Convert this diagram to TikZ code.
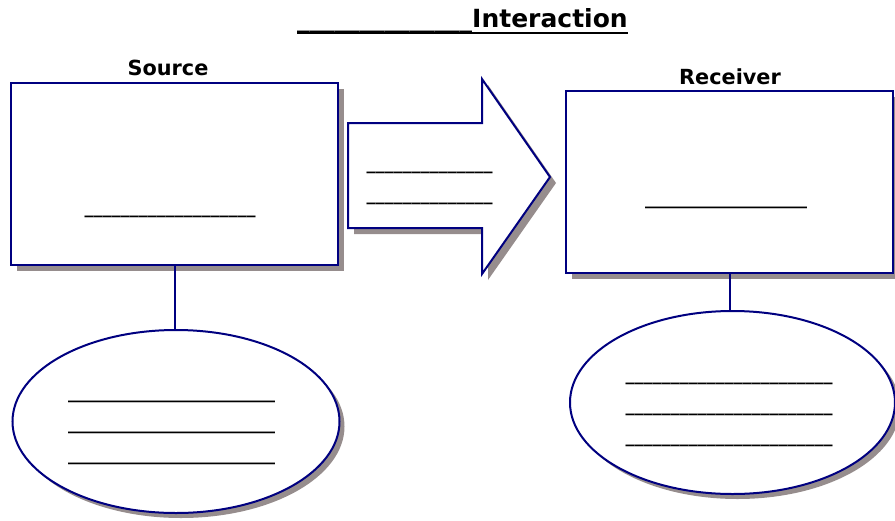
\documentclass[tikz,border=0pt]{standalone}
\usepackage{fontspec}
\setmainfont{Liberation Sans}
\newfontfamily\headfont{DejaVu Sans}
\usetikzlibrary{shapes.geometric,shadows}

\definecolor{framenavy}{RGB}{0,0,128}
\definecolor{shadowgray}{RGB}{150,141,141}

\tikzset{
	outline/.style={draw=framenavy, line width=2pt, fill=white},
	shadowed/.style={drop shadow={shadow xshift=#1, shadow yshift=-#1, fill=shadowgray, opacity=1}},
	panel/.style={outline, shadowed=6pt, rectangle, minimum width=327pt, minimum height=182pt},
	oval/.style={outline, shadowed=5pt, ellipse, minimum width=327pt, minimum height=183pt},
	heading/.style={font=\headfont\bfseries\fontsize{20.8}{24}\selectfont, anchor=base},
	blank/.style={font=\headfont\bfseries\fontsize{18}{31}\selectfont, align=center, anchor=base},
	link/.style={draw=framenavy, line width=2pt}
}

\begin{document}
\begin{tikzpicture}[x=1pt, y=-1pt, every node/.style={inner sep=0pt}]
	\useasboundingbox (0,0) rectangle (895,520);
	
	% \blankline#count
	\def\blankline#1{\foreach \k in {1,...,#1}{\_}}
	
	% title
	\node[font=\headfont\bfseries\fontsize{25}{30}\selectfont, anchor=base] (title) at (462.5,27)
		{\_\_\_\_\_\_\_\_\_\_\_\_\_\_Interaction};
	\draw[line width=2.4pt] ([yshift=-6pt]title.base west) -- ([yshift=-6pt]title.base east);
	
	% boxes and ovals
	\node[panel] (source) at (174.5,174) {};
	\node[panel] (receiver) at (729.5,182) {};
	\node[oval] (srcoval) at (176,421.5) {};
	\node[oval, minimum width=325pt] (rcvoval) at (732.5,402.5) {};
	
	\node[heading] (sourcelabel) at (168,75) {Source};
	\node[heading] (receiverlabel) at (730,84) {Receiver};
	
	% arrow
	\draw[outline, shadowed=6pt] (348,123) -- (482,123) -- (482,79) -- (550,177)
		-- (482,274) -- (482,228) -- (348,228) -- cycle;
	
	% links
	\draw[link] (source.south) -- (source.south |- srcoval.north);
	\draw[link] (receiver.south) -- (receiver.south |- rcvoval.north);
	
	% blanks (base = last row)
	\node[blank] (sourceblank) at (170,213) {\blankline{19}};
	\node[blank] (receiverblank) at (726,204) {\blankline{18}};
	\node[blank] (arrowblank) at (429.5,200) {\blankline{14}\\\blankline{14}};
	\node[blank] (srcovalblank) at (171.5,460) {\blankline{23}\\\blankline{23}\\\blankline{23}};
	\node[blank] (rcvovalblank) at (729,442) {\blankline{23}\\\blankline{23}\\\blankline{23}};
\end{tikzpicture}
\end{document}
